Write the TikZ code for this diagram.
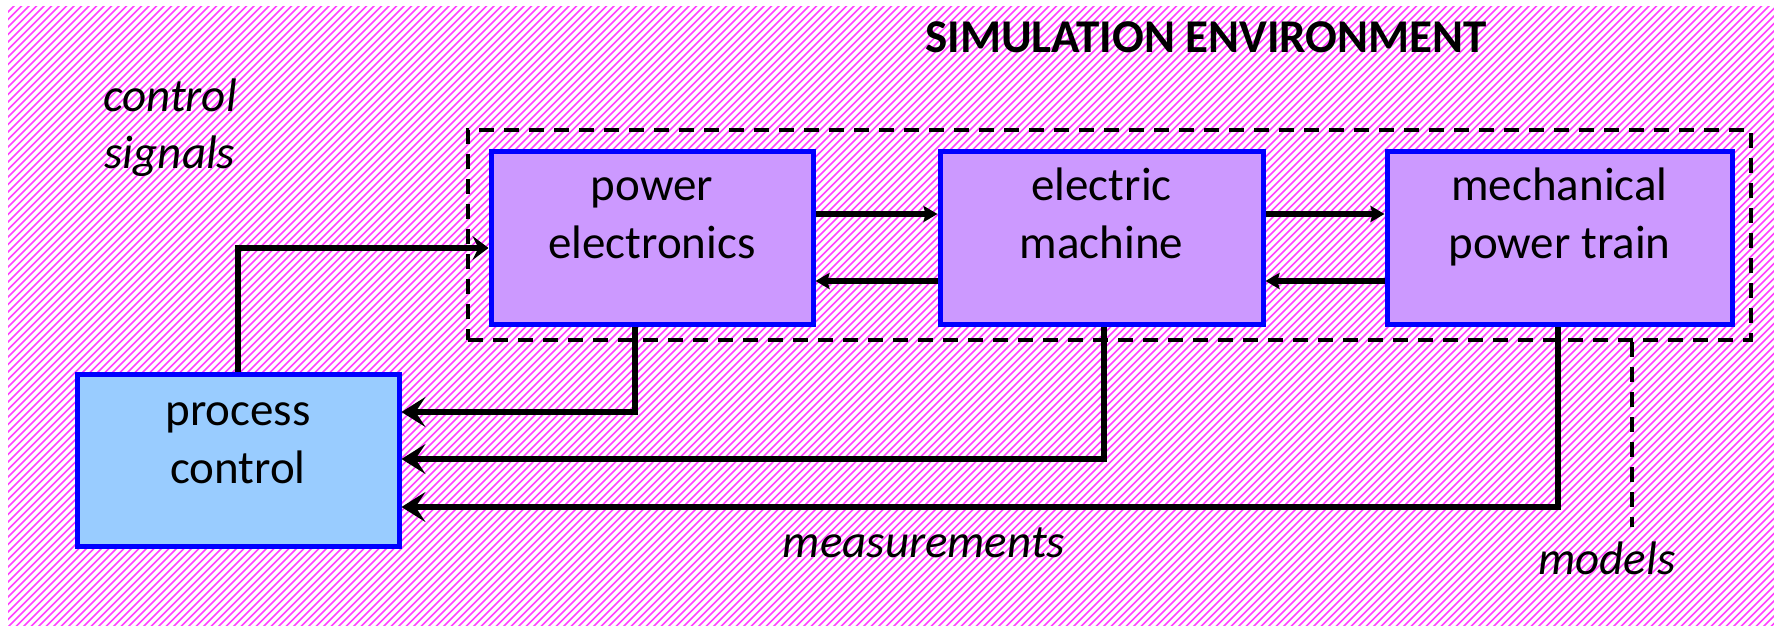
\documentclass[tikz,border=0pt]{standalone}
\usepackage{fontspec}
\setmainfont{Carlito}
\usetikzlibrary{arrows.meta}
\definecolor{boxpurple}{HTML}{CC99FF}
\definecolor{boxblue}{HTML}{99CCFF}
\definecolor{hatch}{HTML}{FF40FF}
\begin{document}
\begin{tikzpicture}[x=0.5pt,y=-0.5pt,
  hatchline/.style={draw=hatch, line width=0.85pt},
  blockbox/.style={draw=blue, line width=2.5pt, fill=boxpurple, inner sep=0pt,
    minimum height=86pt},
  ctrlbox/.style={blockbox, fill=boxblue},
  boxtext/.style={font=\fontsize{23.5}{29}\selectfont, align=center, inner sep=0pt},
  itext/.style={font=\fontsize{23.5}{28.5}\selectfont\itshape, align=center, inner sep=0pt},
  titletext/.style={font=\fontsize{23.5}{28}\selectfont\bfseries, inner sep=0pt, anchor=base},
  envbox/.style={draw=black, line width=2pt, dash pattern=on 7.5pt off 5pt, inner sep=0pt},
  modelline/.style={draw=black, line width=2pt, dash pattern=on 7.5pt off 5pt},
  smallarr/.style={line width=2.6pt, -{Stealth[length=7pt, width=8pt, inset=1pt]}},
  sigarr/.style={line width=2.6pt, -{Stealth[length=8pt, width=12pt, inset=3pt]}},
  measarr/.style={line width=2.6pt, -{Stealth[length=12pt, width=15pt, inset=5pt]}}
]
\useasboundingbox (0,0) rectangle (1774,626);
\fill[white] (0,0) rectangle (1774,626);
\begin{scope}
  \clip (8,7) rectangle (1774,626);
  \foreach \i in {0,...,330} {
    \draw[hatchline] ({-640+7.5*\i},630) -- ++(630,-630);
  }
\end{scope}

% environment (dashed) frame
\node[envbox, minimum width=641.5pt, minimum height=105pt] (env) at (1109.5,235) {};
\coordinate (mdl) at (1632,527);
\draw[modelline] (env.south -| mdl) -- (mdl);

% blocks
\node[blockbox, minimum width=161pt] (pe) at (652,238) {};
\node[blockbox, minimum width=161.5pt] (em) at (1101.5,238) {};
\node[blockbox, minimum width=172.5pt] (mpt) at (1559.5,238) {};
\node[ctrlbox, minimum width=161pt] (pc) at (238,460) {};

\node[boxtext] (pet) at (652,218) {power\strut\\electronics\strut};
\node[boxtext] (emt) at (1101.5,218) {electric\strut\\machine\strut};
\node[boxtext] (mptt) at (1559.5,218) {mechanical\strut\\power train\strut};
\node[boxtext] (pct) at (238,443) {process\strut\\control\strut};

% texts
\node[titletext] (title) at (1206,53) {SIMULATION ENVIRONMENT};
\node[itext] (cs) at (170,129) {control\strut\\signals\strut};
\node[itext, anchor=base] (meas) at (924,557) {measurements};
\node[itext, anchor=base] (mods) at (1607,574) {models};

% power flow arrows
\draw[smallarr] (pe.east |- 0,214) -- (em.west |- 0,214);
\draw[smallarr] (em.west |- 0,281) -- (pe.east |- 0,281);
\draw[smallarr] (em.east |- 0,214) -- (mpt.west |- 0,214);
\draw[smallarr] (mpt.west |- 0,281) -- (em.east |- 0,281);

% control signals
\draw[sigarr] (pc.north) |- (pe.west |- 0,248);

% measurements
\draw[measarr] (pe.south -| 635,0) |- (pc.east |- 0,412);
\draw[measarr] (em.south -| 1104,0) |- (pc.east |- 0,459);
\draw[measarr] (mpt.south -| 1558,0) |- (pc.east |- 0,507);
\end{tikzpicture}
\end{document}
